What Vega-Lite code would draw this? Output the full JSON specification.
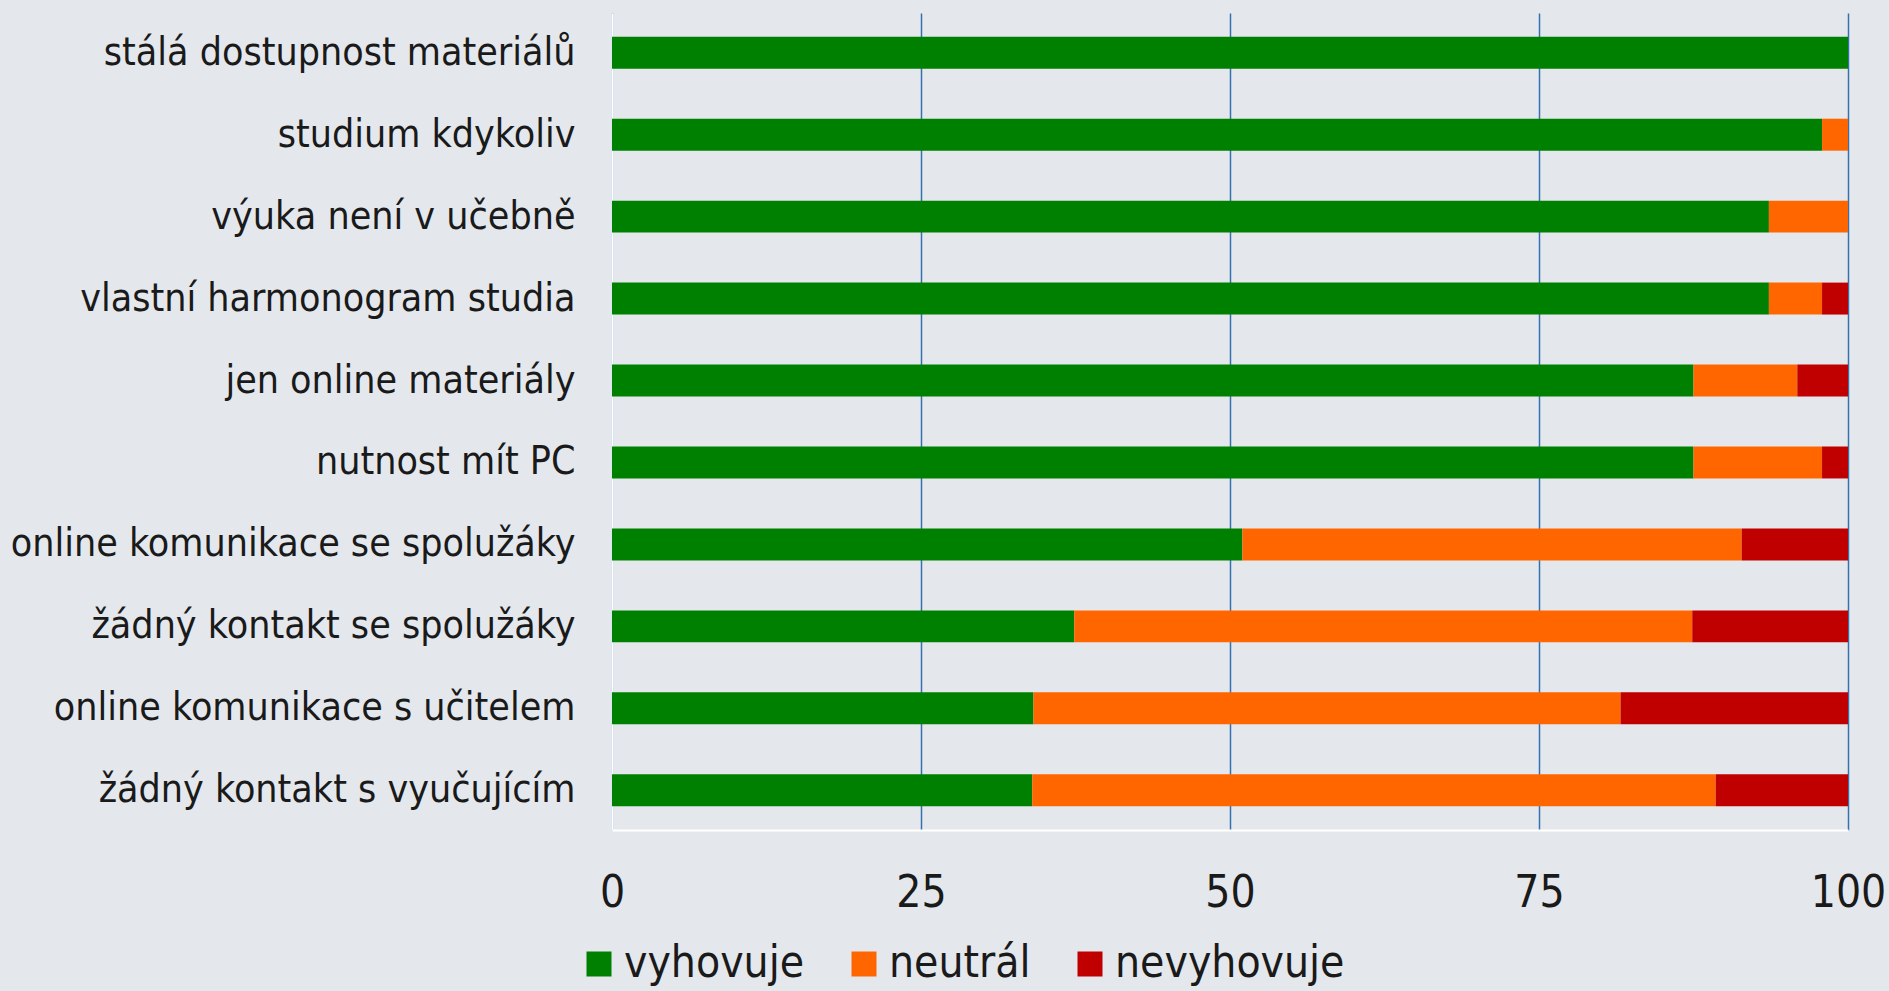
{
  "$schema": "https://vega.github.io/schema/vega-lite/v6.json",
  "autosize": "none",
  "width": 1236,
  "height": 817,
  "padding": {"left": 612, "top": 13, "right": 41, "bottom": 161},
  "background": "#e4e8ed",
  "config": {"view": {"stroke": null}, "font": "DejaVu Sans Condensed"},
  "data": {
    "values": [
      {"item": "stálá dostupnost materiálů", "category": "vyhovuje", "rank": 1, "value": 100},
      {"item": "stálá dostupnost materiálů", "category": "neutrál", "rank": 2, "value": 0},
      {"item": "stálá dostupnost materiálů", "category": "nevyhovuje", "rank": 3, "value": 0},
      {"item": "studium kdykoliv", "category": "vyhovuje", "rank": 1, "value": 97.9},
      {"item": "studium kdykoliv", "category": "neutrál", "rank": 2, "value": 2.1},
      {"item": "studium kdykoliv", "category": "nevyhovuje", "rank": 3, "value": 0},
      {"item": "výuka není v učebně", "category": "vyhovuje", "rank": 1, "value": 93.6},
      {"item": "výuka není v učebně", "category": "neutrál", "rank": 2, "value": 6.4},
      {"item": "výuka není v učebně", "category": "nevyhovuje", "rank": 3, "value": 0},
      {"item": "vlastní harmonogram studia", "category": "vyhovuje", "rank": 1, "value": 93.6},
      {"item": "vlastní harmonogram studia", "category": "neutrál", "rank": 2, "value": 4.3},
      {"item": "vlastní harmonogram studia", "category": "nevyhovuje", "rank": 3, "value": 2.1},
      {"item": "jen online materiály", "category": "vyhovuje", "rank": 1, "value": 87.5},
      {"item": "jen online materiály", "category": "neutrál", "rank": 2, "value": 8.4},
      {"item": "jen online materiály", "category": "nevyhovuje", "rank": 3, "value": 4.1},
      {"item": "nutnost mít PC", "category": "vyhovuje", "rank": 1, "value": 87.5},
      {"item": "nutnost mít PC", "category": "neutrál", "rank": 2, "value": 10.4},
      {"item": "nutnost mít PC", "category": "nevyhovuje", "rank": 3, "value": 2.1},
      {"item": "online komunikace se spolužáky", "category": "vyhovuje", "rank": 1, "value": 51.0},
      {"item": "online komunikace se spolužáky", "category": "neutrál", "rank": 2, "value": 40.4},
      {"item": "online komunikace se spolužáky", "category": "nevyhovuje", "rank": 3, "value": 8.6},
      {"item": "žádný kontakt se spolužáky", "category": "vyhovuje", "rank": 1, "value": 37.4},
      {"item": "žádný kontakt se spolužáky", "category": "neutrál", "rank": 2, "value": 50.0},
      {"item": "žádný kontakt se spolužáky", "category": "nevyhovuje", "rank": 3, "value": 12.6},
      {"item": "online komunikace s učitelem", "category": "vyhovuje", "rank": 1, "value": 34.1},
      {"item": "online komunikace s učitelem", "category": "neutrál", "rank": 2, "value": 47.5},
      {"item": "online komunikace s učitelem", "category": "nevyhovuje", "rank": 3, "value": 18.4},
      {"item": "žádný kontakt s vyučujícím", "category": "vyhovuje", "rank": 1, "value": 34.0},
      {"item": "žádný kontakt s vyučujícím", "category": "neutrál", "rank": 2, "value": 55.3},
      {"item": "žádný kontakt s vyučujícím", "category": "nevyhovuje", "rank": 3, "value": 10.7}
    ]
  },
  "mark": {"type": "bar"},
  "encoding": {
    "y": {
      "field": "item",
      "type": "nominal",
      "sort": ["stálá dostupnost materiálů", "studium kdykoliv", "výuka není v učebně", "vlastní harmonogram studia", "jen online materiály", "nutnost mít PC", "online komunikace se spolužáky", "žádný kontakt se spolužáky", "online komunikace s učitelem", "žádný kontakt s vyučujícím"],
      "scale": {"paddingInner": 0.61, "paddingOuter": 0.29},
      "axis": {
        "title": null,
        "domainColor": "#ffffff",
        "domainWidth": 2,
        "ticks": false,
        "grid": false,
        "labelFontSize": 39,
        "labelColor": "#1a1a1a",
        "labelPadding": 37,
        "labelLimit": 0
      }
    },
    "x": {
      "field": "value",
      "type": "quantitative",
      "stack": "zero",
      "scale": {"domain": [0, 100], "nice": false},
      "axis": {
        "title": null,
        "values": [0, 25, 50, 75, 100],
        "grid": true,
        "gridColor": "#3570b0",
        "gridWidth": 1.5,
        "domainColor": "#ffffff",
        "domainWidth": 2,
        "ticks": false,
        "labelFontSize": 44,
        "labelPadding": 41,
        "labelColor": "#1a1a1a",
        "labelFlush": false
      }
    },
    "color": {
      "field": "category",
      "type": "nominal",
      "scale": {"domain": ["vyhovuje", "neutrál", "nevyhovuje"], "range": ["#008000", "#ff6600", "#c00000"]},
      "legend": {
        "title": null,
        "orient": "none",
        "legendX": -35,
        "legendY": 929,
        "direction": "horizontal",
        "symbolType": "square",
        "symbolSize": 625,
        "symbolStrokeWidth": 0,
        "labelFontSize": 44,
        "labelColor": "#1a1a1a",
        "labelOffset": 3,
        "columnPadding": 37,
        "labelLimit": 0
      }
    },
    "order": {"field": "rank", "type": "quantitative"}
  }
}
